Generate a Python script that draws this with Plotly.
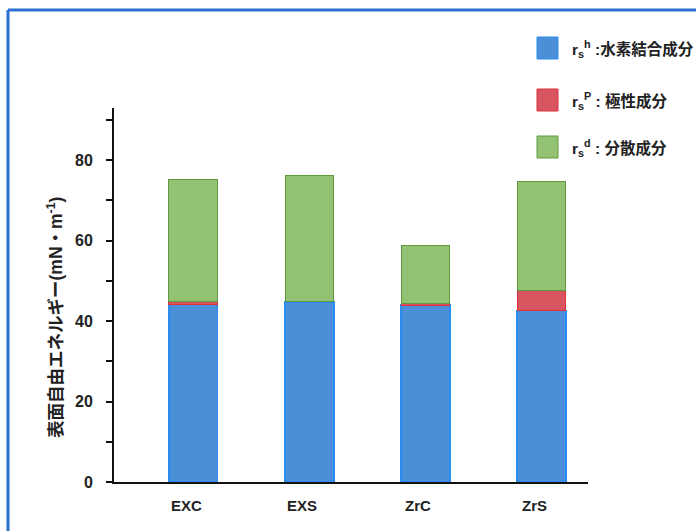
import plotly.graph_objects as go

# Surface free energy components per sample (mN/m)
categories = ["EXC", "EXS", "ZrC", "ZrS"]
hydrogen_bond = [44.2, 44.8, 44.0, 42.7]   # r_s^h
polar = [0.6, 0.0, 0.3, 5.0]               # r_s^p
dispersion = [30.5, 31.3, 14.6, 27.1]      # r_s^d

y_tickvals = [0, 20, 40, 60, 80]

W, H = 696, 531
L, R, T, B = 114, 108, 108, 49
PW, PH = W - L - R, H - T - B

def px(x):
    return (x - L) / PW

def py(y):
    return (H - B - y) / PH

FONT = "Liberation Sans, Arial, Noto Sans CJK JP, sans-serif"
JFONT = "Liberation Sans, Noto Sans CJK JP, sans-serif"

BLUE, BLUE_EDGE = "#4a8fd8", "#2a8cf0"
RED, RED_EDGE = "#d8545f", "#e0303c"
GREEN, GREEN_EDGE = "#93c275", "#5e9a3c"

fig = go.Figure()
fig.add_bar(x=categories, y=hydrogen_bond, marker=dict(color=BLUE, line=dict(color=BLUE_EDGE, width=1.5)), width=0.42)
fig.add_bar(x=categories, y=polar, marker=dict(color=RED, line=dict(color=RED_EDGE, width=1)), width=0.42)
fig.add_bar(x=categories, y=dispersion, marker=dict(color=GREEN, line=dict(color=GREEN_EDGE, width=1)), width=0.42)

shapes = [
    # blue outer frame (left and top edges)
    dict(type="line", xref="paper", yref="paper", x0=px(8), x1=px(700), y0=py(10), y1=py(10),
         line=dict(color="#2a6fd2", width=3)),
    dict(type="line", xref="paper", yref="paper", x0=px(8), x1=px(8), y0=py(10), y1=py(535),
         line=dict(color="#2a6fd2", width=3)),
]

legend_items = [
    (BLUE, BLUE_EDGE, 37, "r<sub>s</sub><sup>h</sup> :水素結合成分"),
    (RED, RED_EDGE, 89, "r<sub>s</sub><sup>P</sup> : 極性成分"),
    (GREEN, GREEN_EDGE, 136, "r<sub>s</sub><sup>d</sup> : 分散成分"),
]
annotations = []
for fill, edge, top, label in legend_items:
    shapes.append(dict(type="rect", xref="paper", yref="paper", x0=px(537), x1=px(558),
                       y0=py(top + 22), y1=py(top), fillcolor=fill, line=dict(color=edge, width=1)))
    annotations.append(dict(xref="paper", yref="paper", x=px(570), y=py(top + 12), text="<b>" + label + "</b>",
                            showarrow=False, xanchor="left", yanchor="middle",
                            font=dict(family=JFONT, size=15.5, color="#222")))

# category labels sit slightly left of the bar centres
for c in categories:
    annotations.append(dict(xref="x", yref="y", x=c, y=0, yshift=-23, xshift=-7,
                            text="<b>%s</b>" % c, showarrow=False,
                            xanchor="center", yanchor="middle",
                            font=dict(family=FONT, size=15, color="#222")))

annotations.append(dict(xref="paper", yref="paper", x=px(55), y=py(318),
                        text="<b>表面自由エネルギー(mN・m<sup>-1</sup>)</b>", textangle=-90,
                        showarrow=False, xanchor="center", yanchor="middle",
                        font=dict(family=JFONT, size=17.5, color="#222")))

fig.update_layout(
    width=W, height=H,
    margin=dict(l=L, r=R, t=T, b=B, pad=0),
    barmode="stack",
    showlegend=False,
    plot_bgcolor="white", paper_bgcolor="white",
    shapes=shapes, annotations=annotations,
    xaxis=dict(range=[-0.683, 3.40], showline=True, linecolor="#111", linewidth=2, ticks="",
               showticklabels=False, showgrid=False, zeroline=False),
    yaxis=dict(range=[0, 93], showline=True, linecolor="#111", linewidth=2,
               ticks="outside", ticklen=6, tickwidth=2, tickcolor="#111",
               tickvals=y_tickvals, ticktext=["<b>%d</b>" % v for v in y_tickvals],
               minor=dict(dtick=10, ticks="outside", ticklen=6, tickwidth=2, tickcolor="#111", showgrid=False),
               tickfont=dict(family=FONT, size=16, color="#222"), ticklabelstandoff=10,
               showgrid=False, zeroline=False),
)

fig.write_html("out.html")
